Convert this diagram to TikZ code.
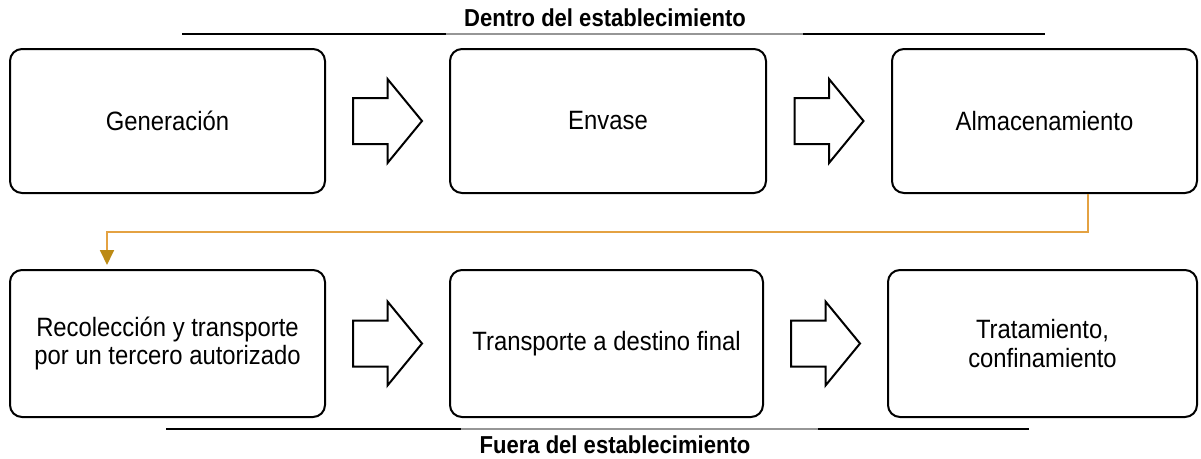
\documentclass[tikz,border=0pt]{standalone}
\usepackage{fontspec}
\setmainfont{Liberation Sans}[FakeStretch=0.9]
\usetikzlibrary{arrows.meta,calc}
\definecolor{linkor}{RGB}{228,162,66}
\definecolor{linkhead}{RGB}{188,138,20}
\definecolor{midgray}{RGB}{150,150,150}
\tikzset{
  box/.style={draw, line width=2pt, rounded corners=12pt, align=center,
    minimum height=144pt, inner sep=2pt, font=\fontsize{26.5}{28.5}\selectfont},
  rule/.style={line width=2.5pt},
  heading/.style={font=\bfseries\fontsize{24.5}{28}\selectfont, inner sep=0pt},
  blockarr/.pic={\draw[line width=2pt, line join=miter, fill=white]
    (-34.5,-23)--(0,-23)--(0,-42)--(34.5,0)--(0,42)--(0,23)--(-34.5,23)--cycle;},
  conn/.style={draw=linkor, line width=1.8pt,
    -{Triangle[width=14pt,length=15pt,color=linkhead]}}
}
\begin{document}
\begin{tikzpicture}[x=1pt,y=-1pt]
\useasboundingbox (0,0) rectangle (1201,458);
% headings and rules
\node[heading] (tin) at (605,18) {Dentro del establecimiento};
\draw[rule,black] (182,34) -- (446,34);
\draw[rule,midgray] (446,34) -- (803,34);
\draw[rule,black] (803,34) -- (1045,34);
\node[heading] (tout) at (615,445) {Fuera del establecimiento};
\draw[rule,black] (166,429) -- (461,429);
\draw[rule,midgray] (461,429) -- (818,429);
\draw[rule,black] (818,429) -- (1029,429);
% row 1
\node[box, minimum width=315pt] (gen) at (167.5,121) {Generación};
\node[box, minimum width=316pt] (env) at (608,121) {Envase};
\node[box, minimum width=305pt] (alm) at (1044.5,121) {Almacenamiento};
% row 2
\node[box, minimum width=315pt, minimum height=147pt] (rec) at (167.5,343.5) {Recolección y transporte\\por un tercero autorizado};
\node[box, minimum width=313pt, minimum height=147pt] (tra) at (606.5,343.5) {Transporte a destino final};
\node[box, minimum width=309pt, minimum height=147pt] (tto) at (1042.5,343.5) {Tratamiento,\\confinamiento};
% block arrows
\path (gen.east) -- (env.west) pic[pos=0.5] {blockarr};
\path (env.east) -- (alm.west) pic[pos=0.5] {blockarr};
\path (rec.east) -- (tra.west) pic[pos=0.5] {blockarr};
\path (tra.east) -- (tto.west) pic[pos=0.5] {blockarr};
% link from storage to collection
\coordinate (turn) at ([xshift=43.5pt]alm.south |- 0,232);
\draw[conn, shorten >=4pt] ([xshift=43.5pt]alm.south) -- (turn) -| ([xshift=-60.5pt]rec.north);
\end{tikzpicture}
\end{document}
